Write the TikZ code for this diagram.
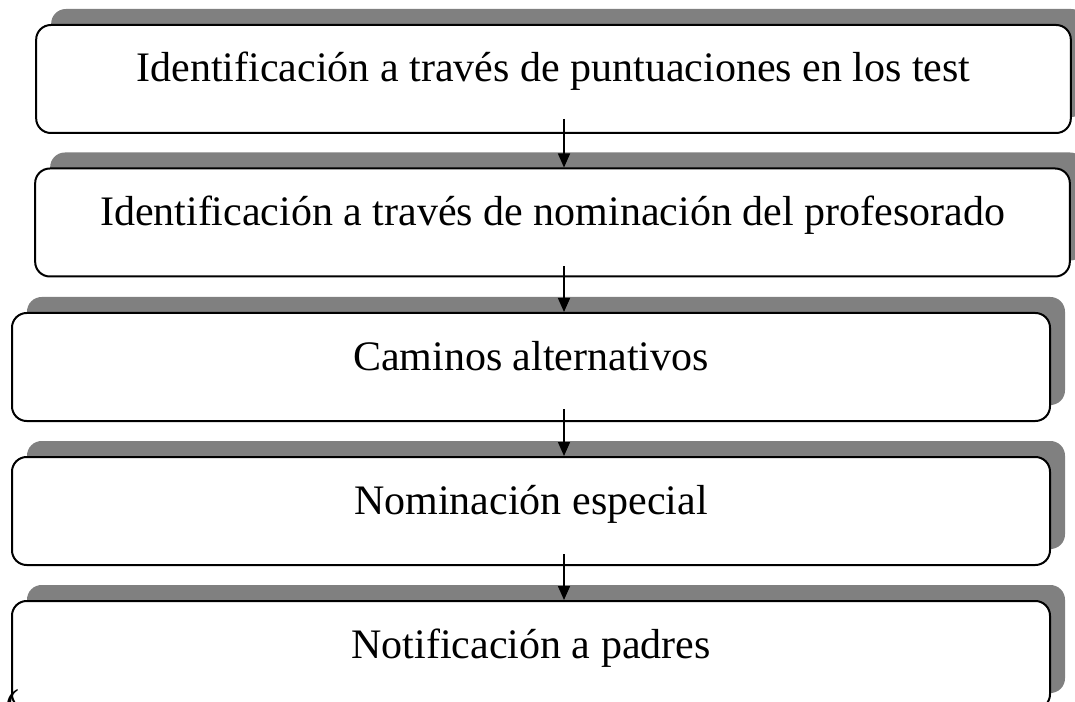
\documentclass[tikz,border=0pt]{standalone}
\usepackage{fontspec}
\setmainfont{Liberation Serif}
\usetikzlibrary{arrows.meta,shadows,calc}
\tikzset{
  stage/.style = {rectangle, rounded corners=11pt, draw=black, line width=1.5pt,
    fill=white, inner sep=0pt, align=center, font=\fontsize{31.5}{36}\selectfont,
    text height=22.5pt, text depth=18pt,
    drop shadow={shadow xshift=11.25pt, shadow yshift=12pt, opacity=1, fill=black!50}},% etapa con sombra
  stage_w/.style = {stage, minimum width=776pt, minimum height=81pt},% etapas de arriba
  stage_n/.style = {stage, minimum width=778.5pt, minimum height=81pt},% etapas de abajo
  link/.style = {-{Triangle[width=9pt,length=10.5pt]}, line width=1.1pt}
}

\begin{document}
\begin{tikzpicture}[x=0.75pt, y=-0.75pt]
  \useasboundingbox (0,0) rectangle (1075,702);
  \clip (0,0) rectangle (1075,702);
  \node [stage_w] (b1) at (553.5,79) {Identificación a través de puntuaciones en los test};
  \node [stage_w] (b2) at (552.5,222.5) {Identificación a través de nominación del profesorado};
  \node [stage_n] (b3) at (531,367) {Caminos alternativos};
  \node [stage_n] (b4) at (531,511) {Nominación especial};
  \node [stage_n] (b5) at (531,655) {Notificación a padres};
  \node [font=\fontsize{31.5}{36}\selectfont, inner sep=0pt] (paren) at (12,708) {(};
  \coordinate (ax) at (564,0);
  \draw [link] ($(b1.south -| ax)+(0,-15)$) -- (b2.north -| ax);
  \draw [link] ($(b2.south -| ax)+(0,-11)$) -- (b3.north -| ax);
  \draw [link] ($(b3.south -| ax)+(0,-13)$) -- (b4.north -| ax);
  \draw [link] ($(b4.south -| ax)+(0,-12)$) -- (b5.north -| ax);
\end{tikzpicture}
\end{document}
